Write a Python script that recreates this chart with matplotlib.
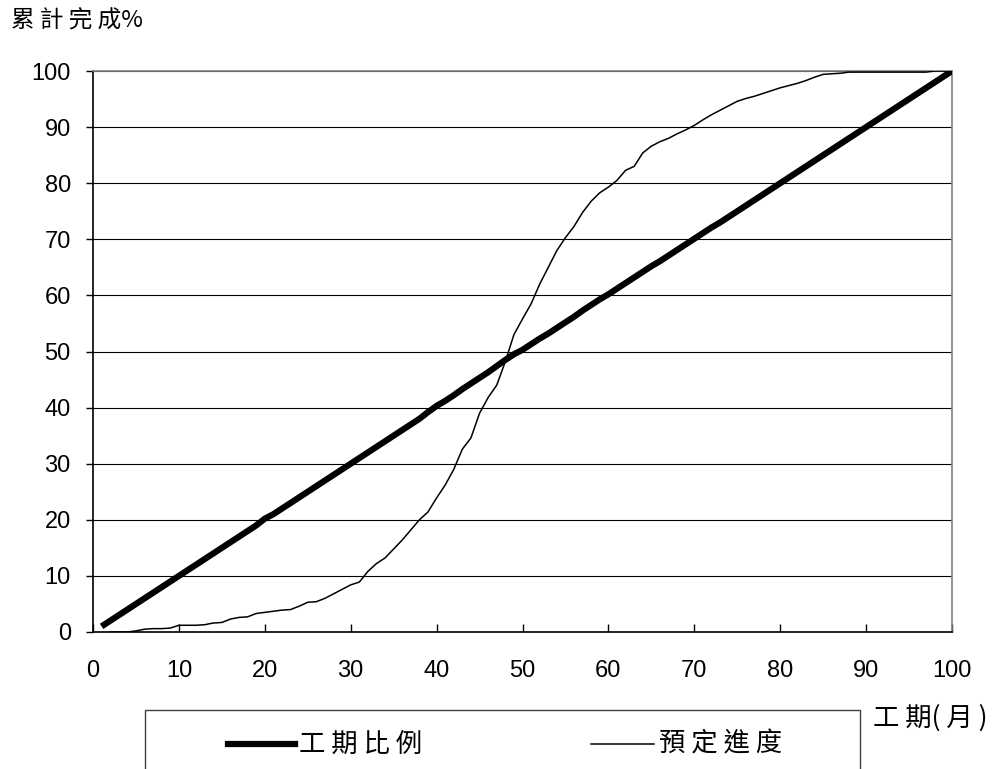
import numpy as np
import matplotlib.pyplot as plt
from matplotlib.lines import Line2D
from matplotlib.patches import Rectangle

plt.rcParams['font.family'] = ['Liberation Sans', 'Noto Sans CJK TC', 'DejaVu Sans']
CJK = ['Noto Sans CJK TC', 'DejaVu Sans']

# 工期比例: elapsed-time share, months 1..100
months = list(range(1, 101))
time_ratio = [1, 2, 3, 4, 5, 6, 7, 8, 9, 10,
              11, 12, 13, 14, 15, 16, 17, 18, 19, 20.2,
              21, 22, 23, 24, 25, 26, 27, 28, 29, 30,
              31, 32, 33, 34, 35, 36, 37, 38, 39.2, 40.3,
              41.2, 42.2, 43.3, 44.3, 45.3, 46.3, 47.4, 48.5, 49.5, 50.3,
              51.3, 52.3, 53.2, 54.2, 55.2, 56.2, 57.3, 58.3, 59.3, 60.2,
              61.2, 62.2, 63.2, 64.2, 65.2, 66.1, 67.1, 68.1, 69.1, 70.1,
              71.1, 72.1, 73, 74, 75, 76, 77, 78, 79, 80,
              81, 82, 83, 84, 85, 86, 87, 88, 89, 90,
              91, 92, 93, 94, 95, 96, 97, 98, 99, 100]

# 預定進度: planned cumulative progress, months 2..100
plan_months = list(range(2, 101))
plan_progress = [0, 0, 0, 0.2, 0.5, 0.6, 0.6, 0.7, 1.2,
                 1.2, 1.2, 1.3, 1.6, 1.7, 2.3, 2.6, 2.7, 3.3, 3.5,
                 3.7, 3.9, 4.0, 4.6, 5.3, 5.4, 6.0, 6.8, 7.6, 8.4,
                 8.9, 10.8, 12.2, 13.2, 14.8, 16.4, 18.2, 20.0, 21.4, 23.9,
                 26.2, 29.0, 32.6, 34.6, 39.0, 41.8, 44.0, 48.2, 53.0, 55.8,
                 58.5, 62.0, 65.0, 68.0, 70.3, 72.3, 74.8, 76.8, 78.3, 79.3,
                 80.5, 82.3, 83.0, 85.4, 86.6, 87.4, 88.0, 88.8, 89.5, 90.3,
                 91.3, 92.2, 93.0, 93.8, 94.6, 95.1, 95.5, 96.0, 96.5, 97.0,
                 97.4, 97.8, 98.3, 98.9, 99.4, 99.5, 99.6, 99.8, 99.8, 99.8,
                 99.8, 99.8, 99.8, 99.8, 99.8, 99.8, 99.8, 100, 100, 100]

ticks = list(range(0, 101, 10))

thick_lw = 4.5
thin_lw = 1.1

fig = plt.figure(figsize=(9.98, 7.69), dpi=100)
ax = fig.add_axes([93 / 998, 1 - 632 / 769, 859 / 998, 561 / 769])

ax.plot(months, time_ratio, color='black', lw=thick_lw, solid_capstyle='butt', zorder=4)
ax.plot(plan_months, plan_progress, color='black', lw=thin_lw, zorder=3)

ax.set_xlim(0, 100)
ax.set_ylim(0, 100)
ax.set_xticks(ticks)
ax.set_yticks(ticks)
ax.yaxis.grid(True, color='black', lw=0.8)
ax.set_axisbelow(True)

for side in ('left', 'bottom'):
    ax.spines[side].set_color('black')
    ax.spines[side].set_linewidth(1.2)
for side in ('top', 'right'):
    ax.spines[side].set_color('#808080')
    ax.spines[side].set_linewidth(1.2)

ax.tick_params(axis='x', direction='in', length=6, width=1, pad=20, labelsize=17)
ax.tick_params(axis='y', direction='out', length=5, width=1, pad=11, labelsize=17)

fig.text(11 / 998, 1 - 21 / 769, '累 計 完 成%', family=CJK, fontsize=17,
         ha='left', va='center')
fig.text(873 / 998, 1 - 718 / 769, '工 期( 月 )', family=CJK, fontsize=19,
         ha='left', va='center')

# legend box running off the bottom edge
fig.add_artist(Rectangle((145 / 998, -0.05), 715 / 998, 0.05 + 1 - 710 / 769,
                         transform=fig.transFigure, fill=False,
                         edgecolor='#404040', lw=1.0))
ly = 1 - 744 / 769
fig.add_artist(Line2D([228 / 998, 295 / 998], [ly, ly], color='black',
                      lw=thick_lw, transform=fig.transFigure))
fig.text(299 / 998, ly, '工 期 比 例', family=CJK, fontsize=19, ha='left', va='center')
fig.add_artist(Line2D([591 / 998, 654 / 998], [ly, ly], color='black',
                      lw=thin_lw, transform=fig.transFigure))
fig.text(659 / 998, ly, '預 定 進 度', family=CJK, fontsize=19, ha='left', va='center')

fig.savefig('out.png', dpi=100)
